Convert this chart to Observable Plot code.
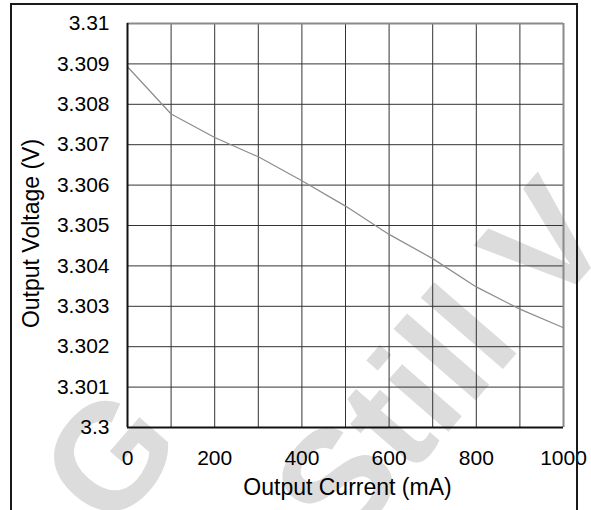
<!DOCTYPE html>
<html>
<head>
<meta charset="utf-8">
<script src="https://cdn.jsdelivr.net/npm/d3@7"></script>
<script src="https://cdn.jsdelivr.net/npm/@observablehq/plot@0.6"></script>
<style>
  html, body { margin: 0; padding: 0; background: #fff; }
  #wrap { position: relative; width: 591px; height: 510px; overflow: hidden; background: #fff; }
  #wm { position: absolute; left: 0; top: 0; }
  #chart { position: absolute; left: 0; top: 0; }
  #frame { position: absolute; left: 10px; top: 3px; width: 568px; height: 600px; border: 2px solid #1a1a1a; box-sizing: border-box; }
</style>
</head>
<body>
<div id="wrap">
  <svg id="wm" width="591" height="510">
    <defs><clipPath id="wmclip"><rect x="0" y="0" width="591" height="510"></rect></clipPath></defs>
    <g id="wmg" clip-path="url(#wmclip)"></g>
  </svg>
  <div id="chart"></div>
  <div id="frame"></div>
</div>
<script>
// Data
const currentMA = [0, 100, 200, 300, 400, 500, 600, 700, 800, 900, 1000];
const voltageV  = [3.30893, 3.30776, 3.30718, 3.30670, 3.30611, 3.30548, 3.30478, 3.30418, 3.30348, 3.30293, 3.30247];
const xGridValues = [0, 100, 200, 300, 400, 500, 600, 700, 800, 900, 1000];
const xTickLabels = [0, 200, 400, 600, 800, 1000];
const yTickValues = [3.3, 3.301, 3.302, 3.303, 3.304, 3.305, 3.306, 3.307, 3.308, 3.309, 3.31];
const xTitle = "Output Current (mA)";
const yTitle = "Output Voltage (V)";

const data = currentMA.map((c, i) => ({current: c, voltage: voltageV[i]}));

// Watermark (background decoration)
const wm = d3.select("#wmg");
const wmStyle = (t) => t.attr("fill", "#dcdcdc").attr("font-family", "Liberation Sans, Arial, sans-serif")
  .attr("font-weight", "bold").attr("font-size", 150);
wm.append("text").text("G").attr("x", 110).attr("y", 534).attr("transform", "rotate(-49 110 534)").call(wmStyle);
wm.append("text").text("Still V").attr("x", 343).attr("y", 553).attr("transform", "rotate(-49 343 553)").call(wmStyle);

const chart = Plot.plot({
  width: 591,
  height: 510,
  marginLeft: 127,
  marginRight: 28,
  marginTop: 23,
  marginBottom: 83,
  style: { fontFamily: "Liberation Sans, Arial, sans-serif", background: "transparent", color: "#000", overflow: "visible" },
  x: { domain: [0, 1000] },
  y: { domain: [3.3, 3.31] },
  marks: [
    Plot.gridX(xGridValues, { stroke: "#333", strokeOpacity: 1, strokeWidth: 1 }),
    Plot.gridY(yTickValues, { stroke: "#333", strokeOpacity: 1, strokeWidth: 1 }),
    Plot.line(data, { x: "current", y: "voltage", stroke: "#8c8c8c", strokeWidth: 1.2 }),
    Plot.ruleY([3.31], { stroke: "#8a8a8a", strokeWidth: 2 }),
    Plot.ruleX([1000], { stroke: "#8a8a8a", strokeWidth: 2 }),
    Plot.ruleY([3.3], { stroke: "#111", strokeWidth: 2 }),
    Plot.ruleX([0], { stroke: "#111", strokeWidth: 2 }),
    Plot.axisY(yTickValues, { tickSize: 0, tickPadding: 18, fontSize: 21, label: null, tickFormat: d => String(+d.toFixed(3)) }),
    Plot.axisX(xTickLabels, { tickSize: 0, tickPadding: 23, fontSize: 21, label: null, tickFormat: d => String(d) }),
    Plot.text([xTitle], { frameAnchor: "bottom", dy: 67, lineAnchor: "bottom", fontSize: 23, fill: "#000", textAnchor: "middle", dx: 2 }),
    Plot.text([yTitle], { frameAnchor: "left", dx: -96, dy: 8, rotate: -90, fontSize: 23, fill: "#000", textAnchor: "middle" })
  ]
});
document.getElementById("chart").appendChild(chart);
</script>
</body>
</html>
